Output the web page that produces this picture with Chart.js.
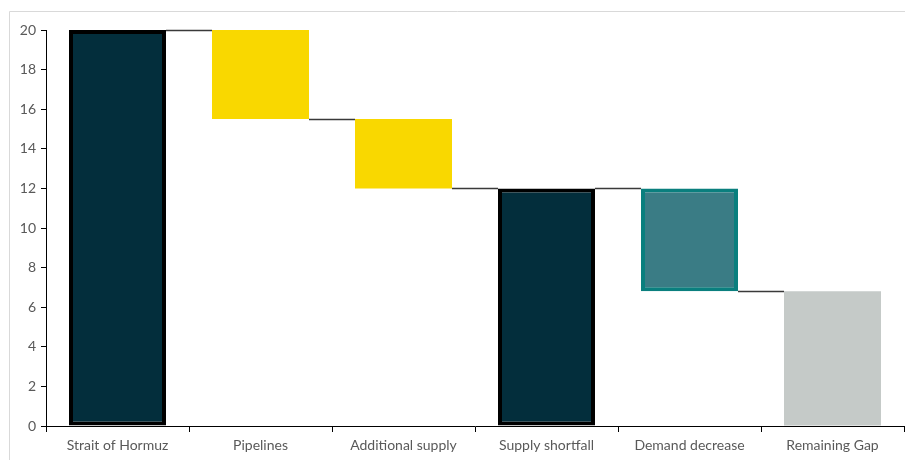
<!DOCTYPE html>
<html>
<head>
<meta charset="utf-8">
<script src="https://cdn.jsdelivr.net/npm/chart.js@4/dist/chart.umd.min.js"></script>
<style>
  html, body { margin: 0; padding: 0; background: #ffffff; }
  #wrap { position: relative; width: 905px; height: 460px; }
</style>
</head>
<body>
<div id="wrap"><canvas id="c" width="905" height="460"></canvas></div>
<script>
// Waterfall: oil flow through the Strait of Hormuz and how the gap is covered (mb/d)
const categories = ["Strait of Hormuz", "Pipelines", "Additional supply", "Supply shortfall", "Demand decrease", "Remaining Gap"];
const barLow  = [0, 15.5, 12, 0, 6.8, 0];
const barHigh = [20, 20, 15.5, 12, 12, 6.8];
const yTicks = [0, 2, 4, 6, 8, 10, 12, 14, 16, 18, 20];

const fillColors   = ["#032E3C", "#F9D800", "#F9D800", "#032E3C", "#3A7C85", "#C5CAC8"];
const borderColors = ["#000000", "#F9D800", "#F9D800", "#000000", "#0A7F7E", "#C5CAC8"];
const borderWidths = [4, 0, 0, 4, 4, 0];

// Steps between bars: each bar's closing level carries to the next bar
const connectorPlugin = {
  id: "connectors",
  afterDatasetsDraw(chart) {
    const meta = chart.getDatasetMeta(0);
    const y = chart.scales.y;
    const ctx = chart.ctx;
    ctx.save();
    ctx.strokeStyle = "#3a3a3a";
    ctx.lineWidth = 1.3;
    for (let i = 0; i < meta.data.length - 1; i++) {
      const a = meta.data[i], b = meta.data[i + 1];
      // level where the next bar begins
      const level = (i === 0 || i === 3) ? barHigh[i] : barLow[i];
      const py = Math.round(y.getPixelForValue(level)) + 0.5;
      ctx.beginPath();
      ctx.moveTo(a.x + a.width / 2, py);
      ctx.lineTo(b.x - b.width / 2, py);
      ctx.stroke();
    }
    ctx.restore();
  }
};

// Light frame around the figure
const framePlugin = {
  id: "frame",
  beforeDraw(chart) {
    const ctx = chart.ctx;
    ctx.save();
    ctx.strokeStyle = "#d9d9d9";
    ctx.lineWidth = 1;
    ctx.beginPath();
    ctx.moveTo(9.5, 460);
    ctx.lineTo(9.5, 11.5);
    ctx.lineTo(905, 11.5);
    ctx.stroke();
    ctx.restore();
  }
};

new Chart(document.getElementById("c"), {
  type: "bar",
  data: {
    labels: categories,
    datasets: [{
      data: barLow.map((lo, i) => [lo, barHigh[i]]),
      backgroundColor: fillColors,
      borderColor: borderColors,
      borderWidth: borderWidths,
      borderSkipped: false,
      barPercentage: 97 / 143,
      categoryPercentage: 1.0,
      clip: false
    }]
  },
  options: {
    responsive: false,
    animation: false,
    devicePixelRatio: 1,
    layout: { padding: { left: 0, right: 1, top: 30, bottom: 0 } },
    plugins: { legend: { display: false }, tooltip: { enabled: false } },
    scales: {
      x: {
        grid: { display: true, drawOnChartArea: false, drawTicks: true, tickLength: 6, color: "#000000", offset: true },
        border: { display: true, color: "#000000", width: 1 },
        ticks: { color: "#595959", font: { family: "Lato", size: 14 }, padding: 5, maxRotation: 0 },
        afterFit(scale) { scale.height = 34; }
      },
      y: {
        min: 0,
        max: 20,
        afterBuildTicks(scale) { scale.ticks = yTicks.map(v => ({ value: v })); },
        grid: { display: true, drawOnChartArea: false, drawTicks: true, tickLength: 5, color: "#000000" },
        border: { display: true, color: "#000000", width: 1 },
        ticks: { color: "#595959", font: { family: "Lato", size: 14 }, padding: 5 },
        afterFit(scale) { scale.width = 46; }
      }
    }
  },
  plugins: [framePlugin, connectorPlugin]
});
</script>
</body>
</html>
